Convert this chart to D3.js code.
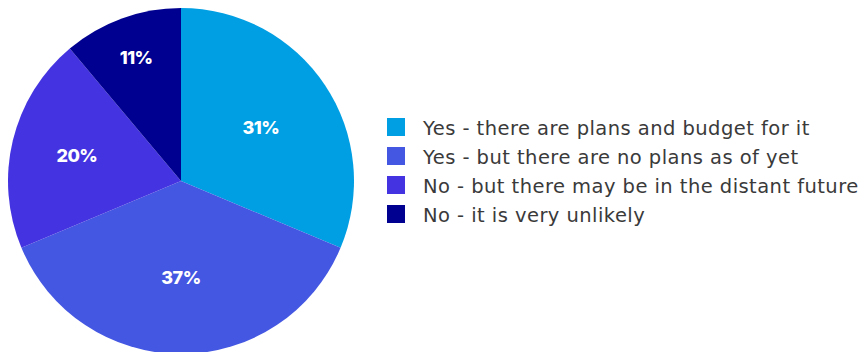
<!DOCTYPE html>
<html>
<head>
<meta charset="utf-8">
<script src="https://cdn.jsdelivr.net/npm/d3@7"></script>
<style>
  html, body { margin: 0; padding: 0; background: #fff; }
  svg { display: block; }
</style>
</head>
<body>
<svg id="chart" width="867" height="352"></svg>
<script>
// Survey answers and their shares (percent)
const categories = [
  "Yes - there are plans and budget for it",
  "Yes - but there are no plans as of yet",
  "No - but there may be in the distant future",
  "No - it is very unlikely"
];
const values = [31, 37, 20, 11];
const colors = ["#009fe3", "#4457e2", "#4433e0", "#000090"];

const svg = d3.select("#chart");
const cx = 181, cy = 181, radius = 173;

const color = d3.scaleOrdinal().domain(categories).range(colors);

const pie = d3.pie().sort(null).value(d => d.value);
const arcs = pie(categories.map((c, i) => ({ name: c, value: values[i] })));

const arc = d3.arc().innerRadius(0).outerRadius(radius);

// Narrow slices push their label further out toward the rim
const labelRadius = d3.scaleLinear()
  .domain([0.69, 1.26, 1.95])
  .range([0.76, 0.62, 0.555])
  .clamp(true);
const labelPos = d => {
  const r = radius * labelRadius(d.endAngle - d.startAngle);
  return d3.arc().innerRadius(r).outerRadius(r).centroid(d);
};

const g = svg.append("g").attr("transform", `translate(${cx},${cy})`);

g.selectAll("path.slice")
  .data(arcs)
  .join("path")
  .attr("class", "slice")
  .attr("d", arc)
  .attr("fill", d => color(d.data.name));

g.selectAll("text.pct")
  .data(arcs)
  .join("text")
  .attr("class", "pct")
  .attr("transform", d => `translate(${labelPos(d)})`)
  .attr("text-anchor", "middle")
  .attr("dominant-baseline", "central")
  .attr("fill", "#fff")
  .attr("font-family", "Inter, 'Open Sans', sans-serif")
  .attr("font-weight", 800)
  .attr("font-size", 18)
  .attr("letter-spacing", "-0.5")
  .text(d => d.data.value + "%");

// Legend
const legend = svg.append("g").attr("transform", "translate(387,118)");
const rowH = 29;
const rows = legend.selectAll("g.row")
  .data(categories)
  .join("g")
  .attr("class", "row")
  .attr("transform", (d, i) => `translate(0,${i * rowH})`);

rows.append("rect")
  .attr("width", 18)
  .attr("height", 18)
  .attr("fill", d => color(d));

rows.append("text")
  .attr("x", 36)
  .attr("y", 10)
  .attr("dominant-baseline", "central")
  .attr("fill", "#3a3a3a")
  .attr("font-family", "'DejaVu Sans', sans-serif")
  .attr("font-size", 19.5)
  .attr("letter-spacing", "0.45")
  .text(d => d);
</script>
</body>
</html>
